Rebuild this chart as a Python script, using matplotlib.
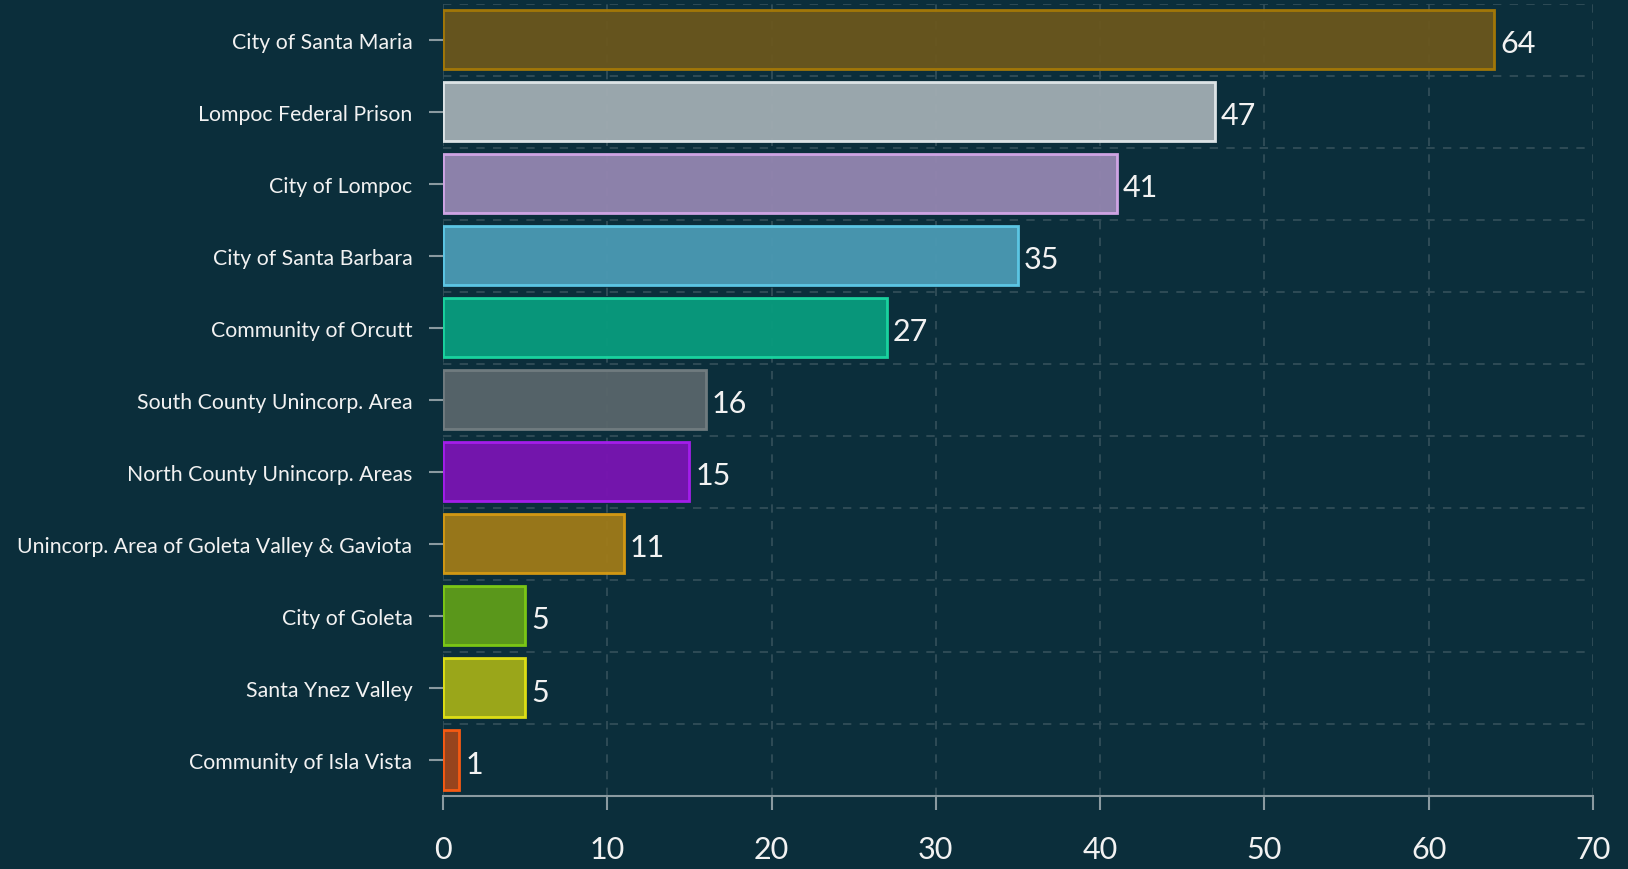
import matplotlib
matplotlib.use('Agg')
import matplotlib.pyplot as plt
from matplotlib.ticker import FixedLocator

# data
areas = ['City of Santa Maria', 'Lompoc Federal Prison', 'City of Lompoc',
         'City of Santa Barbara', 'Community of Orcutt', 'South County Unincorp. Area',
         'North County Unincorp. Areas', 'Unincorp. Area of Goleta Valley & Gaviota',
         'City of Goleta', 'Santa Ynez Valley', 'Community of Isla Vista']
counts = [64, 47, 41, 35, 27, 16, 15, 11, 5, 5, 1]

face_colors = ['#6b571d', '#a2adb3', '#9486b1', '#4b9ab4', '#089c7e', '#59666b',
               '#7a14b3', '#a07b19', '#5f9e1a', '#a3ad19', '#a0461c']
edge_colors = ['#a87a06', '#e4eaec', '#d6a8ea', '#5ecbea', '#1ad8a2', '#737e82',
               '#a81ef0', '#d99c12', '#7fcc14', '#e4e414', '#ff5c12']

BG = '#0b2e3b'
GRID = '#34505b'
AXC = '#8a9aa0'

plt.rcParams['font.family'] = ['Lato', 'DejaVu Sans']

fig = plt.figure(figsize=(16.28, 8.70), dpi=100, facecolor=BG)
ax = fig.add_axes([0.2721, 0.0839, 0.7064, 0.9109])
ax.set_facecolor(BG)

ypos = list(range(len(areas)))
bars = ax.barh(ypos, counts, height=0.82, color=face_colors, edgecolor=edge_colors,
               linewidth=2, alpha=0.95, zorder=3)

# value labels at the end of each bar
for y, v in zip(ypos, counts):
    ax.text(v + 0.35, y + 0.05, str(v), va='center', ha='left', color='#f2f2f2',
            fontsize=22, zorder=4)

ax.set_xlim(0, 70)
ax.set_ylim(10.5, -0.5)
ax.set_xticks(range(0, 71, 10))
ax.set_yticks(ypos)
ax.set_yticklabels(areas)
ax.yaxis.set_minor_locator(FixedLocator([i - 0.5 for i in range(len(areas) + 1)]))

ax.grid(True, axis='x', which='major', color=GRID, linestyle=(0, (5, 5)), linewidth=1.2, zorder=1)
ax.grid(True, axis='y', which='minor', color=GRID, linestyle=(0, (5, 5)), linewidth=1.2, zorder=1)
ax.tick_params(axis='y', which='minor', length=0)

for side in ['top', 'right', 'left']:
    ax.spines[side].set_visible(False)
ax.spines['bottom'].set_color(AXC)
ax.spines['bottom'].set_linewidth(1.5)

ax.tick_params(axis='x', colors=AXC, length=10, width=1.5, pad=18, labelsize=22,
               labelcolor='#f2f2f2')
ax.tick_params(axis='y', which='major', colors=AXC, length=10, width=1.5, pad=12,
               labelsize=15.3, labelcolor='#f2f2f2')

fig.savefig('out.png', dpi=100, facecolor=BG)
